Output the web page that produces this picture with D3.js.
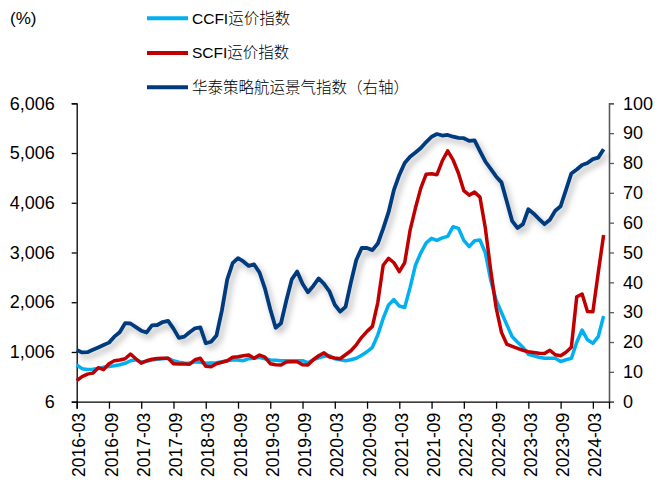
<!DOCTYPE html>
<html>
<head>
<meta charset="utf-8">
<script src="https://cdn.jsdelivr.net/npm/d3@7"></script>
<style>
  html, body { margin: 0; padding: 0; background: #fff; }
  svg { display: block; }
  text { font-family: "Liberation Sans", Arial, sans-serif; fill: #000; }
  .cjk { font-family: "Liberation Sans", "Noto Sans CJK SC", sans-serif; font-weight: 300; }
</style>
</head>
<body>
<svg id="chart" width="657" height="486"></svg>
<script>
// ---------- DATA ----------
const startMonth = "2016-03";
const ccfi = [744,670,655,658,675,700,715,730,750,778,830,850,800,820,845,860,870,880,830,800,
  785,780,810,800,778,785,790,810,830,845,845,830,870,880,900,870,845,840,830,830,
  830,830,830,790,850,890,920,930,870,850,830,850,880,940,1010,1100,1350,1680,1950,2060,
  1930,1900,2300,2750,3000,3200,3290,3250,3300,3330,3525,3492,3250,3123,3243,3257,3000,2450,2050,1800,
  1550,1313,1200,1100,960,930,900,880,880,880,815,850,878,1200,1447,1250,1180,1313,1730];
const scfi = [430,510,560,580,690,650,770,830,845,870,965,870,780,830,860,875,880,880,770,765,
  765,760,850,880,720,710,770,800,830,900,910,930,945,880,945,900,770,750,745,805,
  810,810,750,745,850,930,990,905,885,870,950,1030,1150,1300,1420,1520,2000,2750,2890,2800,
  2620,2800,3450,3900,4300,4580,4590,4570,4850,5050,4870,4600,4250,4160,4220,4120,3500,2650,1900,1400,
  1160,1120,1080,1040,1010,995,980,975,1040,950,930,1000,1100,2117,2170,1820,1816,2600,3358];
const htIndex = [17.3,16.5,16.6,17.4,18.2,19.0,19.8,21.8,23.3,26.3,26.2,25.0,23.8,23.2,25.6,25.7,26.7,27.1,24.5,21.4,
  21.8,23.3,24.6,24.9,19.6,20.1,22.2,30.5,41.0,46.4,48.1,47.0,45.5,46.0,43.3,38.0,31.0,24.8,26.3,34.0,
  41.0,43.6,39.5,36.7,38.8,41.3,39.5,37.0,32.5,30.2,31.8,40.0,47.5,51.5,51.5,50.8,53.0,58.0,63.5,71.0,
  76.0,80.0,82.1,83.5,85.0,87.0,88.8,89.7,89.2,89.4,88.8,88.4,88.3,87.4,87.6,84.0,80.5,78.0,75.5,73.5,
  67.0,60.5,58.2,59.5,64.5,63.0,61.2,59.5,61.0,64.0,65.5,71.0,76.5,77.8,79.3,80.0,81.3,81.8,84.6];
const xTickLabels = ["2016-03","2016-09","2017-03","2017-09","2018-03","2018-09","2019-03","2019-09",
  "2020-03","2020-09","2021-03","2021-09","2022-03","2022-09","2023-03","2023-09","2024-03"];
const leftTicks = [6,1006,2006,3006,4006,5006,6006];
const rightTicks = [0,10,20,30,40,50,60,70,80,90,100];
const legendNames = ["CCFI运价指数","SCFI运价指数","华泰策略航运景气指数（右轴）"];
const unitLabel = "(%)";

// ---------- SETUP ----------
const parse = d3.timeParse("%Y-%m");
const fmt = d3.timeFormat("%Y-%m");
const t0 = parse(startMonth);
const months = ccfi.map((_, i) => d3.timeMonth.offset(t0, i));
const monthKey = months.map(fmt);

const colors = { ccfi: "#00B0F0", scfi: "#C00000", ht: "#003A7D" };
const L = 76.7, R = 609, T = 103.3, B = 401.7;

const svg = d3.select("#chart");
const defs = svg.append("defs");
const f = defs.append("filter").attr("id", "shadow")
  .attr("x", "-10%").attr("y", "-10%").attr("width", "130%").attr("height", "130%");
f.append("feDropShadow").attr("dx", 3).attr("dy", 4).attr("stdDeviation", 3)
  .attr("flood-color", "#000").attr("flood-opacity", 0.3);

const x = d3.scaleLinear().domain([0, 99]).range([L, R]);
const yL = d3.scaleLinear().domain([6, 6006]).range([B, T]);
const yR = d3.scaleLinear().domain([0, 100]).range([B, T]);

// ---------- AXES ----------
const leftAxis = svg.append("g").attr("transform", `translate(${L},0)`)
  .call(d3.axisLeft(yL).tickValues(leftTicks).tickSize(5).tickFormat(d3.format(",")));
leftAxis.select(".domain").attr("stroke", "#000").attr("stroke-width", 1.3);
leftAxis.selectAll(".tick line").attr("stroke", "#000").attr("stroke-width", 1.3);
leftAxis.selectAll(".tick text").attr("x", -22).attr("font-size", 18).attr("fill", "#000");

const rightAxis = svg.append("g").attr("transform", `translate(${R},0)`)
  .call(d3.axisRight(yR).tickValues(rightTicks).tickSize(5));
rightAxis.select(".domain").attr("stroke", "#595959").attr("stroke-width", 1.6);
rightAxis.selectAll(".tick line").attr("stroke", "#595959").attr("stroke-width", 1.3);
rightAxis.selectAll(".tick text").attr("x", 14).attr("font-size", 18).attr("fill", "#000");

const tickIdx = xTickLabels.map(lbl => monthKey.indexOf(lbl));
const bottomAxis = svg.append("g").attr("transform", `translate(0,${B})`)
  .call(d3.axisBottom(x).tickValues(tickIdx).tickSize(7).tickFormat((d, i) => xTickLabels[i]));
bottomAxis.select(".domain").attr("stroke", "#000").attr("stroke-width", 1.3);
bottomAxis.selectAll(".tick line").attr("stroke", "#000").attr("stroke-width", 1.3);
bottomAxis.selectAll(".tick text")
  .attr("font-size", 17.5).attr("fill", "#000")
  .attr("text-anchor", "end")
  .attr("transform", "rotate(-90)")
  .attr("x", -11).attr("y", 2).attr("dy", "0.35em");
svg.selectAll(".domain").attr("fill", "none");

// ---------- LINES ----------
const lineL = d3.line().x((d, i) => x(i)).y(d => yL(d));
const lineR = d3.line().x((d, i) => x(i)).y(d => yR(d));
svg.append("path").datum(ccfi).attr("d", lineL).attr("fill", "none")
  .attr("stroke", colors.ccfi).attr("stroke-width", 3.5).attr("stroke-linejoin", "round");
svg.append("path").datum(scfi).attr("d", lineL).attr("fill", "none")
  .attr("stroke", colors.scfi).attr("stroke-width", 3.5).attr("stroke-linejoin", "round");
svg.append("path").datum(htIndex).attr("d", lineR).attr("fill", "none")
  .attr("stroke", colors.ht).attr("stroke-width", 3.8).attr("stroke-linejoin", "round")
  .attr("filter", "url(#shadow)");

// ---------- LEGEND / LABELS ----------
svg.append("text").attr("x", 10).attr("y", 18).attr("dy", "0.35em")
  .attr("font-size", 17).text(unitLabel);
const legColors = [colors.ccfi, colors.scfi, colors.ht];
const legY = [18.3, 53, 87.3];
legendNames.forEach((name, i) => {
  const g = svg.append("g").attr("transform", `translate(0,${legY[i]})`);
  g.append("line").attr("x1", 147).attr("x2", 188).attr("y1", 0).attr("y2", 0)
    .attr("stroke", legColors[i]).attr("stroke-width", 4);
  g.append("text").attr("class", "cjk").attr("x", 192).attr("dy", "0.35em")
    .attr("font-size", 15.5).text(name);
});
</script>
</body>
</html>
